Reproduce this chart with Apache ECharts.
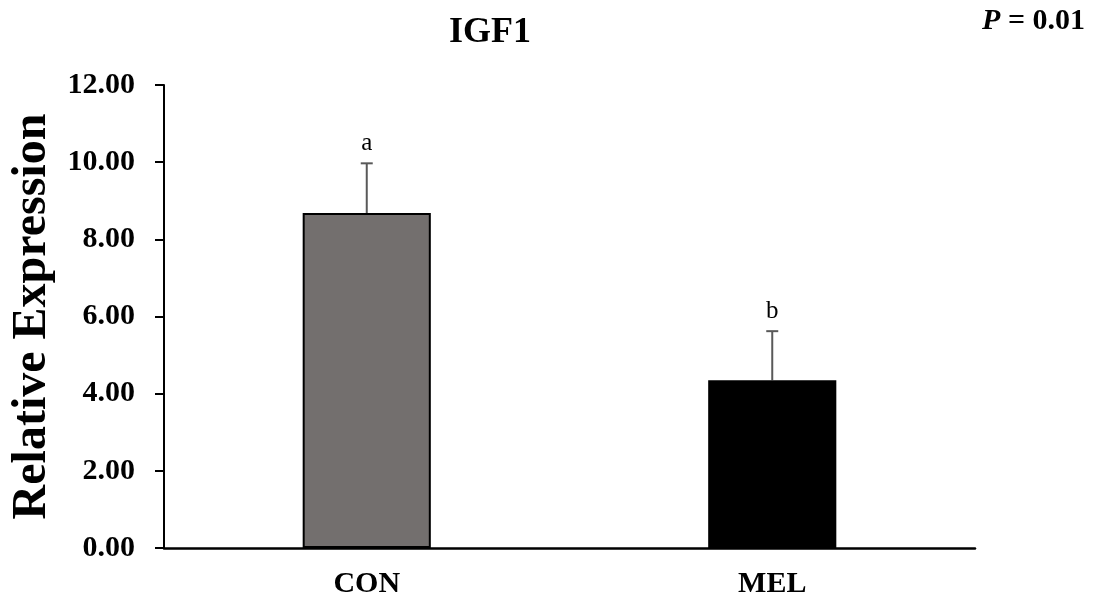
<!DOCTYPE html>
<html>
<head>
<meta charset="utf-8">
<script src="https://cdn.jsdelivr.net/npm/echarts@6/dist/echarts.min.js"></script>
<style>
  html, body { margin: 0; padding: 0; background: #ffffff; }
  #chart { width: 1095px; height: 603px; }
</style>
</head>
<body>
<div id="chart"></div>
<script>
// IGF1 relative expression, CON vs MEL
const categories = ['CON', 'MEL'];
const means = [8.68, 4.35];
const errors = [1.29, 1.27];
const letters = ['a', 'b'];
const yTicks = [0, 2, 4, 6, 8, 10, 12];
const barColors = ['#736f6e', '#000000'];

const serif = '"Liberation Serif", "Times New Roman", serif';

const chart = echarts.init(document.getElementById('chart'), null, { renderer: 'canvas' });

chart.setOption({
  animation: false,
  backgroundColor: '#ffffff',
  title: [
    {
      text: 'IGF1',
      left: 485,
      top: 10,
      textAlign: 'center',
      textStyle: { fontFamily: serif, fontSize: 36, fontWeight: 'bold', color: '#000' }
    },
    {
      text: '{p|P}{r| = 0.01}',
      right: 5,
      top: 1,
      textStyle: {
        rich: {
          p: { fontFamily: serif, fontSize: 30, fontWeight: 'bold', fontStyle: 'italic', color: '#000' },
          r: { fontFamily: serif, fontSize: 30, fontWeight: 'bold', color: '#000' }
        }
      }
    }
  ],
  grid: { left: 164, right: 120, top: 85, bottom: 55 },
  xAxis: {
    type: 'category',
    data: categories,
    axisLine: { lineStyle: { color: '#000', width: 2.5 } },
    axisTick: { show: false },
    axisLabel: {
      margin: 21,
      fontFamily: serif, fontSize: 30, fontWeight: 'bold', color: '#000'
    }
  },
  yAxis: {
    type: 'value',
    min: yTicks[0],
    max: yTicks[yTicks.length - 1],
    interval: yTicks[1] - yTicks[0],
    name: 'Relative Expression',
    nameLocation: 'middle',
    nameRotate: 90,
    nameGap: 107,
    nameTextStyle: { fontFamily: serif, fontSize: 48, fontWeight: 'bold', color: '#000' },
    axisLine: { show: true, lineStyle: { color: '#000', width: 2 } },
    axisTick: { show: true, length: 9, lineStyle: { color: '#000', width: 2 } },
    splitLine: { show: false },
    axisLabel: {
      margin: 29,
      formatter: v => v.toFixed(2),
      fontFamily: serif, fontSize: 30, fontWeight: 'bold', color: '#000'
    }
  },
  series: [
    {
      type: 'bar',
      barWidth: '31.6%',
      data: means.map((v, i) => ({
        value: v,
        itemStyle: { color: barColors[i], borderColor: '#000', borderWidth: 2 }
      })),
      z: 2
    },
    {
      type: 'custom',
      z: 1,
      data: means.map((m, i) => [i, m, m + errors[i], letters[i]]),
      renderItem: function (params, api) {
        const base = api.coord([api.value(0), api.value(1)]);
        const top = api.coord([api.value(0), api.value(2)]);
        const half = 6;
        const stroke = { stroke: '#595959', lineWidth: 2 };
        return {
          type: 'group',
          children: [
            { type: 'line', shape: { x1: base[0], y1: base[1], x2: top[0], y2: top[1] }, style: stroke },
            { type: 'line', shape: { x1: top[0] - half, y1: top[1], x2: top[0] + half, y2: top[1] }, style: stroke },
            {
              type: 'text',
              style: {
                text: api.value(3),
                x: top[0],
                y: top[1] - 7,
                align: 'center',
                verticalAlign: 'bottom',
                fontFamily: serif,
                fontSize: 25,
                fill: '#000'
              }
            }
          ]
        };
      }
    }
  ]
});
</script>
</body>
</html>
